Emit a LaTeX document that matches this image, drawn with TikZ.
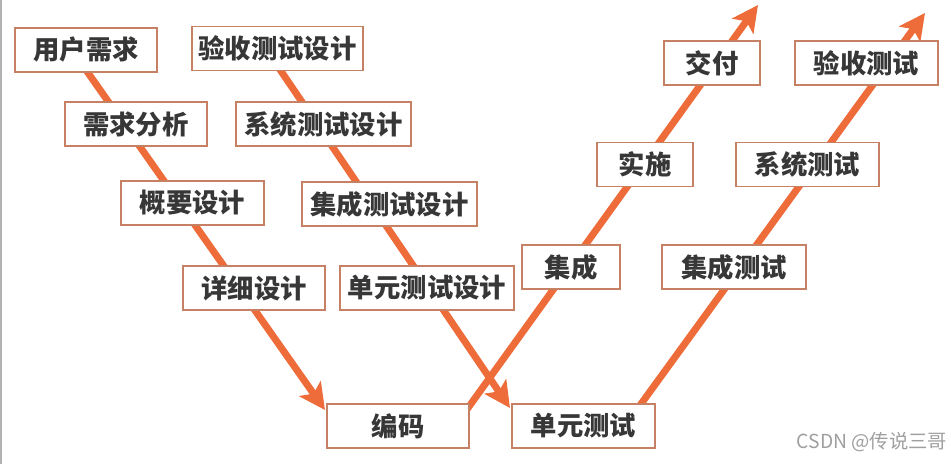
\documentclass[tikz,border=0pt]{standalone}
\usepackage{fontspec}
\newfontfamily\cjk{Noto Sans CJK SC}
\usetikzlibrary{arrows.meta}
\definecolor{vorange}{RGB}{238,108,58}
\definecolor{vborder}{RGB}{198,128,100}
\definecolor{vtext}{RGB}{55,55,55}
\tikzset{
  stage/.style = {draw = vborder, line width = 1.1pt, fill = white, text = vtext,
    font = \cjk\bfseries\fontsize{15}{17}\selectfont,
    minimum height = 0.88cm, inner sep = 0pt},
  flow/.style = {vorange, line width = 0.14cm,
    -{Stealth[length = 0.52cm, width = 0.52cm, inset = 0.12cm]}}
}
\begin{document}
\begin{tikzpicture}[x = 0.02cm, y = -0.02cm]
\useasboundingbox (0,0) rectangle (951,464);
\draw[gray!60, line width = 0.05cm] (1,0) -- (1,464);
% ends of the four strokes
\coordinate (d1s) at (72,50);
\coordinate (d1e) at (325,410);
\coordinate (d2s) at (266,49);
\coordinate (d2e) at (510,408);
\coordinate (u1s) at (455,426);
\coordinate (u1e) at (758,5);
\coordinate (u2s) at (625,426);
\coordinate (u2e) at (925,13);
\draw[flow] (d1s) -- (d1e);
\draw[flow] (d2s) -- (d2e);
\draw[flow] (u1s) -- (u1e);
\draw[flow] (u2s) -- (u2e);
% left side
\node[stage, minimum width = 2.84cm] at (86,50) (req) {用户需求};
\node[stage, minimum width = 2.84cm] at (136,124) (ana) {需求分析};
\node[stage, minimum width = 2.86cm] at (192.5,203) (hld) {概要设计};
\node[stage, minimum width = 2.84cm] at (254,288) (lld) {详细设计};
\node[stage, minimum width = 3.42cm] at (277.5,48.5) (atd) {验收测试设计};
\node[stage, minimum width = 3.5cm] at (323.5,124) (std) {系统测试设计};
\node[stage, minimum width = 3.5cm] at (389.5,204) (itd) {集成测试设计};
\node[stage, minimum width = 3.48cm] at (427,288) (utd) {单元测试设计};
% bottom
\node[stage, minimum width = 2.84cm] at (398,426) (code) {编码};
\node[stage, minimum width = 2.86cm] at (583.5,426) (ut) {单元测试};
% right side
\node[stage, minimum width = 1.96cm] at (571,267) (integ) {集成};
\node[stage, minimum width = 1.92cm] at (645,164.5) (impl) {实施};
\node[stage, minimum width = 1.92cm] at (712,63) (deliv) {交付};
\node[stage, minimum width = 2.88cm] at (734,267) (it) {集成测试};
\node[stage, minimum width = 2.86cm] at (807.5,164.5) (st) {系统测试};
\node[stage, minimum width = 2.86cm] at (866.5,63) (at) {验收测试};
\node[text = gray!75, font = \cjk\fontsize{11}{13}\selectfont] at (872,442) (mark) {CSDN @传说三哥};
\end{tikzpicture}
\end{document}
